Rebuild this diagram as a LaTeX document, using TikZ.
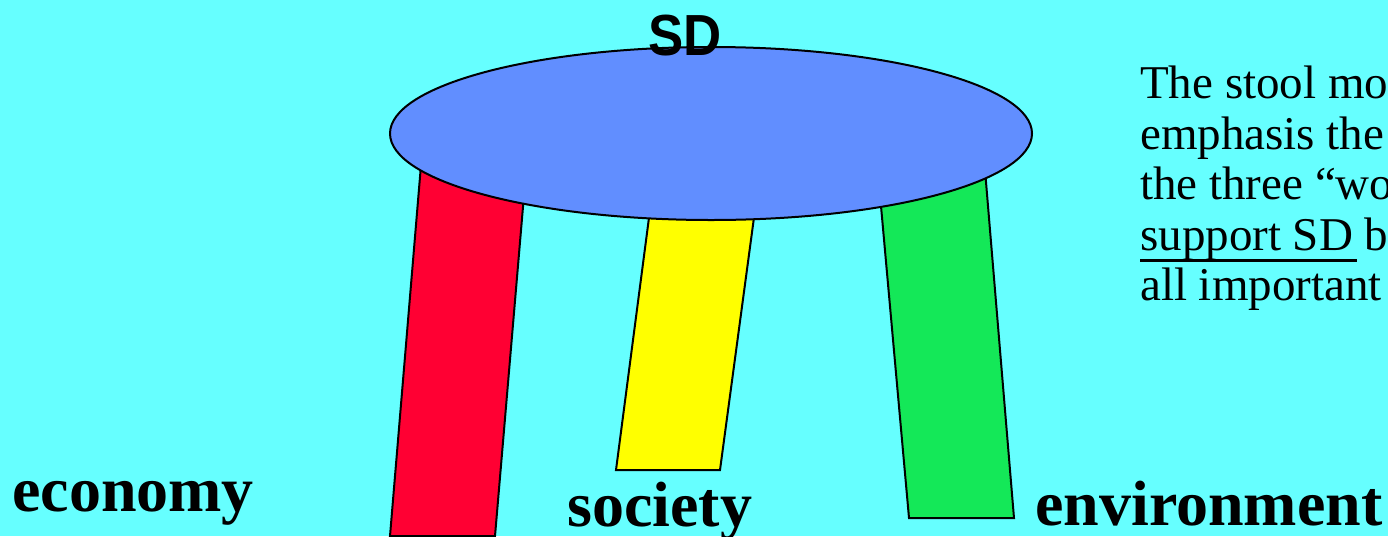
\documentclass[tikz,border=0pt]{standalone}
\usepackage{fontspec}
\setmainfont{Liberation Serif}
\setsansfont{Liberation Sans}
\usetikzlibrary{calc,shapes.geometric}
\definecolor{bgcyan}{HTML}{66FFFF}
\definecolor{seatblue}{HTML}{618EFF}
\definecolor{legred}{HTML}{FF0033}
\definecolor{legyellow}{HTML}{FFFF00}
\definecolor{leggreen}{HTML}{14E858}
\tikzset{
  leg/.style={draw=black, line width=2pt, line join=miter},
  label/.style={inner sep=0pt, anchor=base west, font=\fontsize{64}{64}\selectfont\bfseries},
  note/.style={inner sep=0pt, anchor=base west, font=\fontsize{47}{47}\selectfont},
}
\begin{document}
\begin{tikzpicture}[x=1pt,y=-1pt]
\fill[bgcyan] (0,0) rectangle (1388,536);
\useasboundingbox (0,0) rectangle (1388,536);
% legs
\filldraw[leg, fill=legred] (421,165) -- (524,195) -- (495,536) -- (390,536) -- cycle;
\filldraw[leg, fill=legyellow] (650,210) -- (755,210) -- (720,470) -- (616,470) -- cycle;
\filldraw[leg, fill=leggreen] (880,195) -- (985,170) -- (1014,518) -- (909,518) -- cycle;
% seat
\node[draw=black, line width=2pt, fill=seatblue, ellipse, minimum width=642pt, minimum height=173pt, inner sep=0pt] (seat) at (711,133.5) {};
% labels
\node[inner sep=0pt, anchor=base west, xscale=0.91, font=\sffamily\bfseries\fontsize{58}{58}\selectfont] (sd) at (648,55) {SD};
\node[label] (economy) at (12,511) {economy};
\node[label] (society) at (567,526) {society};
\node[label] (environment) at (1035,525) {environment};
% note
\node[note] (l1) at (1140,98) {The stool mo};
\node[note] (l2) at (1140,149) {emphasis the};
\node[note] (l3) at (1140,199) {the three “wo};
\node[note] (l4) at (1140,250) {support SD b};
\node[note] (l5) at (1140,300) {all important};
\coordinate (ulstart) at ($(l4.base west)+(0,10)$);
\coordinate (ulend) at ($(l4.base west)+(217,10)$);
\draw[line width=3pt] (ulstart) -- (ulend);
\end{tikzpicture}
\end{document}
